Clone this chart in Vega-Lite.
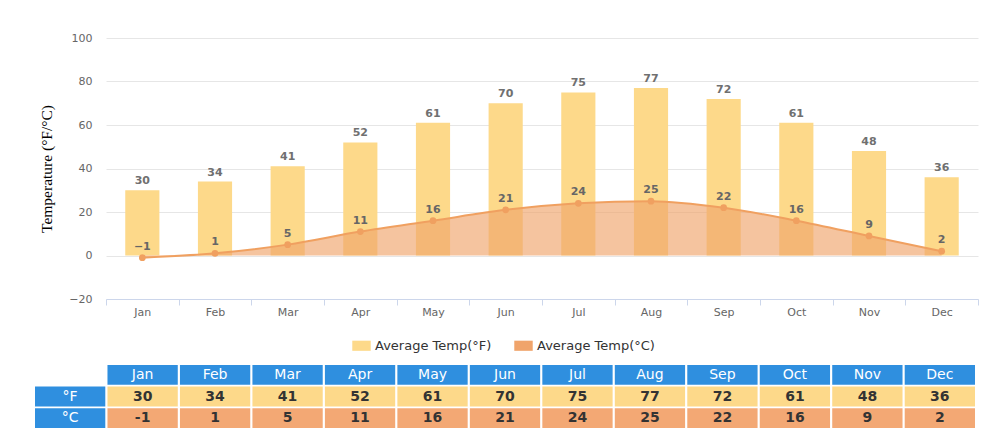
{
  "$schema": "https://vega.github.io/schema/vega-lite/v6.json",
  "background": "white",
  "padding": {"left": 35, "top": 32, "right": 5, "bottom": 0},
  "spacing": 12,
  "resolve": {"scale": {"color": "independent"}, "legend": {"color": "independent"}},
  "config": {"view": {"stroke": null}, "font": "DejaVu Sans"},
  "datasets": {
    "temps": [
      {"month": "Jan", "F": 30, "C": -1},
      {"month": "Feb", "F": 34, "C": 1},
      {"month": "Mar", "F": 41, "C": 5},
      {"month": "Apr", "F": 52, "C": 11},
      {"month": "May", "F": 61, "C": 16},
      {"month": "Jun", "F": 70, "C": 21},
      {"month": "Jul", "F": 75, "C": 24},
      {"month": "Aug", "F": 77, "C": 25},
      {"month": "Sep", "F": 72, "C": 22},
      {"month": "Oct", "F": 61, "C": 16},
      {"month": "Nov", "F": 48, "C": 9},
      {"month": "Dec", "F": 36, "C": 2}
    ],
    "table": [
      {"col": " ", "row": "F", "kind": "head", "label": "°F"},
      {"col": " ", "row": "C", "kind": "head", "label": "°C"},
      {"col": "Jan", "row": "hdr", "kind": "head", "label": "Jan"},
      {"col": "Feb", "row": "hdr", "kind": "head", "label": "Feb"},
      {"col": "Mar", "row": "hdr", "kind": "head", "label": "Mar"},
      {"col": "Apr", "row": "hdr", "kind": "head", "label": "Apr"},
      {"col": "May", "row": "hdr", "kind": "head", "label": "May"},
      {"col": "Jun", "row": "hdr", "kind": "head", "label": "Jun"},
      {"col": "Jul", "row": "hdr", "kind": "head", "label": "Jul"},
      {"col": "Aug", "row": "hdr", "kind": "head", "label": "Aug"},
      {"col": "Sep", "row": "hdr", "kind": "head", "label": "Sep"},
      {"col": "Oct", "row": "hdr", "kind": "head", "label": "Oct"},
      {"col": "Nov", "row": "hdr", "kind": "head", "label": "Nov"},
      {"col": "Dec", "row": "hdr", "kind": "head", "label": "Dec"},
      {"col": "Jan", "row": "F", "kind": "F", "label": "30"},
      {"col": "Feb", "row": "F", "kind": "F", "label": "34"},
      {"col": "Mar", "row": "F", "kind": "F", "label": "41"},
      {"col": "Apr", "row": "F", "kind": "F", "label": "52"},
      {"col": "May", "row": "F", "kind": "F", "label": "61"},
      {"col": "Jun", "row": "F", "kind": "F", "label": "70"},
      {"col": "Jul", "row": "F", "kind": "F", "label": "75"},
      {"col": "Aug", "row": "F", "kind": "F", "label": "77"},
      {"col": "Sep", "row": "F", "kind": "F", "label": "72"},
      {"col": "Oct", "row": "F", "kind": "F", "label": "61"},
      {"col": "Nov", "row": "F", "kind": "F", "label": "48"},
      {"col": "Dec", "row": "F", "kind": "F", "label": "36"},
      {"col": "Jan", "row": "C", "kind": "C", "label": "-1"},
      {"col": "Feb", "row": "C", "kind": "C", "label": "1"},
      {"col": "Mar", "row": "C", "kind": "C", "label": "5"},
      {"col": "Apr", "row": "C", "kind": "C", "label": "11"},
      {"col": "May", "row": "C", "kind": "C", "label": "16"},
      {"col": "Jun", "row": "C", "kind": "C", "label": "21"},
      {"col": "Jul", "row": "C", "kind": "C", "label": "24"},
      {"col": "Aug", "row": "C", "kind": "C", "label": "25"},
      {"col": "Sep", "row": "C", "kind": "C", "label": "22"},
      {"col": "Oct", "row": "C", "kind": "C", "label": "16"},
      {"col": "Nov", "row": "C", "kind": "C", "label": "9"},
      {"col": "Dec", "row": "C", "kind": "C", "label": "2"}
    ]
  },
  "vconcat": [
    {
      "width": 872,
      "height": 261,
      "data": {"name": "temps"},
      "encoding": {
        "x": {
          "field": "month", "type": "nominal", "sort": null,
          "scale": {"paddingInner": 0, "paddingOuter": 0},
          "axis": {
            "title": null, "labelAngle": 0, "tickBand": "extent",
            "domainColor": "#ccd6eb", "tickColor": "#ccd6eb", "tickSize": 6,
            "labelColor": "#666666", "labelFontSize": 11, "labelPadding": 1, "grid": false
          }
        }
      },
      "layer": [
        {
          "mark": {"type": "bar", "width": {"band": 0.47}},
          "encoding": {
            "y": {
              "field": "F", "type": "quantitative", "title": "Temperature (°F/°C)",
              "scale": {"domain": [-20, 100], "nice": false},
              "axis": {
                "titleFont": "Liberation Serif",
                "titleFontSize": 15.5, "titleFontWeight": "normal", "titleColor": "#000000",
                "titlePadding": 14,
                "values": [-20, 0, 20, 40, 60, 80, 100], "domain": false, "ticks": false,
                "labelColor": "#666666", "labelFontSize": 11, "labelPadding": 14,
                "gridColor": "#e6e6e6"
              }
            },
            "color": {
              "datum": "Average Temp(°F)",
              "scale": {"domain": ["Average Temp(°F)", "Average Temp(°C)"], "range": ["#fdd98a", "#f0a46b"]},
              "legend": {
                "title": null, "orient": "none", "direction": "horizontal",
                "legendX": 246, "legendY": 298,
                "symbolType": "M-1,-0.55H1V0.55H-1Z", "symbolSize": 340,
                "symbolOpacity": 1, "symbolStrokeWidth": 0,
                "labelFontSize": 13, "labelColor": "#333333", "columnPadding": 22
              }
            }
          }
        },
        {
          "mark": {"type": "text", "dy": -9, "fontSize": 11, "fontWeight": "bold", "color": "#707070"},
          "encoding": {
            "y": {"field": "F", "type": "quantitative", "title": "Temperature (°F/°C)"},
            "text": {"field": "F", "type": "quantitative"}
          }
        },
        {
          "mark": {"type": "area", "fillOpacity": 0.65, "interpolate": "monotone"},
          "encoding": {
            "y": {"field": "C", "type": "quantitative", "title": "Temperature (°F/°C)"},
            "color": {"datum": "Average Temp(°C)"}
          }
        },
        {
          "mark": {"type": "line", "color": "#f0a060", "strokeWidth": 2, "interpolate": "monotone"},
          "encoding": {"y": {"field": "C", "type": "quantitative", "title": "Temperature (°F/°C)"}}
        },
        {
          "mark": {"type": "point", "filled": true, "size": 45, "color": "#f0a060", "opacity": 1},
          "encoding": {"y": {"field": "C", "type": "quantitative", "title": "Temperature (°F/°C)"}}
        },
        {
          "mark": {"type": "text", "dy": -11, "fontSize": 11, "fontWeight": "bold", "color": "#666666"},
          "encoding": {
            "y": {"field": "C", "type": "quantitative", "title": "Temperature (°F/°C)"},
            "text": {"field": "C", "type": "quantitative"}
          }
        }
      ]
    },
    {
      "width": 872,
      "height": 63,
      "data": {"name": "table"},
      "encoding": {
        "x": {
          "field": "col", "type": "nominal",
          "sort": [" ", "Jan", "Feb", "Mar", "Apr", "May", "Jun", "Jul", "Aug", "Sep", "Oct", "Nov", "Dec"],
          "scale": {"range": [-71, 869], "paddingInner": 0.03, "paddingOuter": 0}, "axis": null
        },
        "y": {
          "field": "row", "type": "nominal", "sort": ["hdr", "F", "C"],
          "scale": {"paddingInner": 0.08, "paddingOuter": 0}, "axis": null
        }
      },
      "layer": [
        {
          "mark": {"type": "rect"},
          "encoding": {
            "color": {
              "field": "kind", "type": "nominal",
              "scale": {"domain": ["head", "F", "C"], "range": ["#2f8fdf", "#fdd98a", "#f3a874"]},
              "legend": null
            }
          }
        },
        {
          "transform": [{"filter": "datum.kind === 'head'"}],
          "mark": {"type": "text", "fontSize": 14, "color": "#ffffff"},
          "encoding": {"text": {"field": "label"}}
        },
        {
          "transform": [{"filter": "datum.kind !== 'head'"}],
          "mark": {"type": "text", "fontSize": 14, "fontWeight": "bold", "color": "#333333"},
          "encoding": {"text": {"field": "label"}}
        }
      ]
    }
  ]
}
